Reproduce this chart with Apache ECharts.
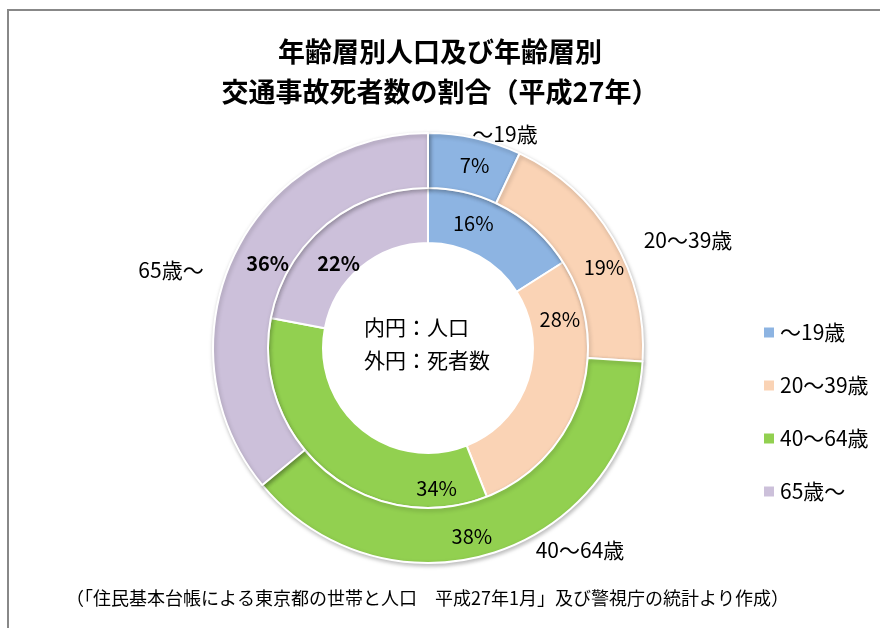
<!DOCTYPE html>
<html>
<head>
<meta charset="utf-8">
<script src="https://cdn.jsdelivr.net/npm/echarts@6/dist/echarts.min.js"></script>
<style>
html, body { margin: 0; padding: 0; background: #fff; }
#chart { width: 880px; height: 628px; }
</style>
</head>
<body>
<div id="chart"></div>
<script>
'use strict';

// 年齢層（凡例・外側ラベル）
var ageGroups = ['～19歳', '20～39歳', '40～64歳', '65歳～'];
// 内円：人口の割合 (%)
var populationPct = [16, 28, 34, 22];
// 外円：交通事故死者数の割合 (%)
var deathPct = [7, 19, 38, 36];
var colors = ['#8DB4E2', '#FAD3B5', '#92D050', '#CCC0DA'];

var FONT = '"Noto Sans CJK JP", "Noto Sans", sans-serif';

// ラベルの微調整（元のグラフの手動配置に合わせる）
var innerLabelOffset = [[-20, -6], [3, -70], [95, 36], [-3, 20]];
var outerLabelOffset = [[5, 3], [12, 16], [-15, 7], [12, -3]];

function buildData(values, offsets) {
    return ageGroups.map(function (name, i) {
        var item = { name: name, value: values[i], label: { offset: offsets[i] } };
        // 65歳～ のラベルは太字
        if (i === 3) {
            item.label.fontWeight = 'bold';
        }
        return item;
    });
}

// 外側の年齢層ラベル（手動配置）
var namePos = [[505, 134], [688, 240], [580, 550], [171, 270]];
var nameLabels = ageGroups.map(function (name, i) {
    return {
        type: 'text',
        x: namePos[i][0],
        y: namePos[i][1],
        style: {
            text: name,
            fill: '#000',
            font: '21px ' + FONT,
            align: 'center',
            verticalAlign: 'middle'
        }
    };
});

var chart = echarts.init(document.getElementById('chart'));

var option = {
    color: colors,
    animation: false,
    title: [{
        text: '年齢層別人口及び年齢層別\n交通事故死者数の割合（平成27年）',
        left: 'center',
        top: 32,
        padding: 0,
        textStyle: {
            fontFamily: FONT,
            fontSize: 27,
            fontWeight: 'bold',
            lineHeight: 40,
            color: '#000'
        }
    }, {
        text: '（「住民基本台帳による東京都の世帯と人口　平成27年1月」及び警視庁の統計より作成）',
        left: 66,
        top: 589,
        padding: 0,
        textStyle: {
            fontFamily: FONT,
            fontSize: 18,
            fontWeight: 'normal',
            color: '#000'
        }
    }],
    legend: {
        orient: 'vertical',
        left: 757,
        top: 317,
        icon: 'rect',
        itemWidth: 12,
        itemHeight: 12,
        itemGap: 32,
        data: ageGroups,
        textStyle: {
            fontFamily: FONT,
            fontSize: 21,
            lineHeight: 20,
            color: '#000'
        }
    },
    graphic: [{
        type: 'rect',
        shape: { x: 8, y: 10, width: 900, height: 700 },
        style: { fill: 'none', stroke: '#888', lineWidth: 2 },
        silent: true
    }, {
        type: 'text',
        x: 364,
        y: 327,
        style: {
            text: '内円：人口',
            fill: '#000',
            font: '21px ' + FONT,
            verticalAlign: 'middle'
        }
    }, {
        type: 'text',
        x: 364,
        y: 360,
        style: {
            text: '外円：死者数',
            fill: '#000',
            font: '21px ' + FONT,
            verticalAlign: 'middle'
        }
    }].concat(nameLabels),
    series: [{
        name: '人口',
        type: 'pie',
        center: [428, 348],
        radius: [105, 160],
        startAngle: 90,
        clockwise: true,
        silent: true,
        itemStyle: {
            borderColor: '#fff',
            borderWidth: 2
        },
        label: {
            position: 'inside',
            formatter: '{c}%',
            fontFamily: FONT,
            fontSize: 20,
            color: '#000'
        },
        labelLine: { show: false },
        data: buildData(populationPct, innerLabelOffset)
    }, {
        name: '死者数',
        type: 'pie',
        center: [428, 348],
        radius: [160, 215],
        startAngle: 90,
        clockwise: true,
        silent: true,
        itemStyle: {
            borderColor: '#fff',
            borderWidth: 2,
            shadowBlur: 4,
            shadowColor: 'rgba(0,0,0,0.25)',
            shadowOffsetX: 1,
            shadowOffsetY: 2
        },
        label: {
            position: 'inside',
            formatter: '{c}%',
            fontFamily: FONT,
            fontSize: 20,
            color: '#000'
        },
        labelLine: { show: false },
        data: buildData(deathPct, outerLabelOffset)
    }]
};

chart.setOption(option);
</script>
</body>
</html>
